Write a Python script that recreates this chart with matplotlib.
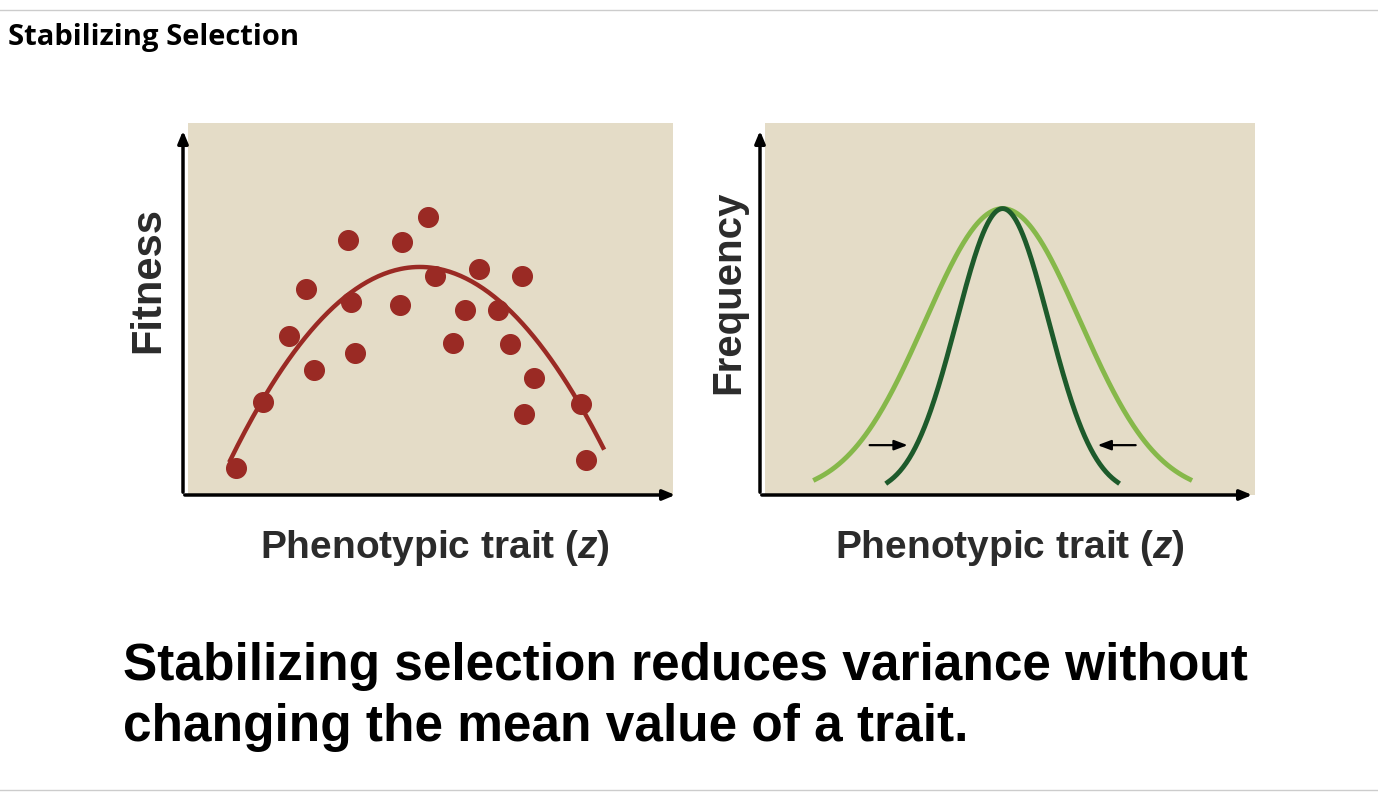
import numpy as np
import matplotlib.pyplot as plt

plt.rcParams['font.family'] = ['Liberation Sans', 'DejaVu Sans']
plt.rcParams['mathtext.fontset'] = 'custom'
plt.rcParams['mathtext.it'] = 'Liberation Sans:italic:bold'
plt.rcParams['mathtext.rm'] = 'Liberation Sans:bold'

# Left panel: fitness vs trait (data units 0-10)
dot_x = [0.99, 1.55, 2.08, 2.43, 2.6, 3.3, 3.36, 3.44, 4.37, 4.41, 4.95,
         5.09, 5.46, 5.71, 6.0, 6.39, 6.64, 6.89, 7.13, 6.93, 8.1, 8.21]
dot_y = [0.73, 2.5, 4.27, 5.54, 3.36, 6.85, 5.19, 3.82, 5.11, 6.8, 7.47,
         5.89, 4.09, 4.97, 6.08, 4.97, 4.06, 5.89, 3.15, 2.18, 2.45, 0.94]
fit_peak_x, fit_peak_y, fit_a = 4.78, 6.13, 0.34
fit_range = (0.87, 8.56)

# Right panel: frequency distributions before / after selection
peak_x, peak_y = 4.9, 7.7
wide_sigma, wide_half = 1.6, 3.86
narrow_sigma, narrow_half = 0.95, 2.37

BG = '#e4dcc7'
RED = '#9a2a24'
LIGHT = '#86b84a'
DARK = '#1d5a2b'

fig = plt.figure(figsize=(13.78, 7.98), dpi=100)
W, H = 1378, 798


def add_panel(x0, w):
    ax = fig.add_axes([x0 / W, 1 - 495 / H, w / W, 372 / H])
    ax.set_xlim(0, 10 * w / 485)
    ax.set_ylim(0, 10)
    ax.set_facecolor(BG)
    for s in ax.spines.values():
        s.set_visible(False)
    ax.set_xticks([])
    ax.set_yticks([])
    return ax


def draw_axes_arrows(x0):
    # axis lines with arrow heads in figure pixel coords
    ox, oy = x0 - 5, 495
    fig.add_artist(plt.matplotlib.patches.FancyArrowPatch(
        (ox / W, 1 - oy / H), (ox / W, 1 - 128 / H), transform=fig.transFigure,
        arrowstyle='-|>,head_length=0.6,head_width=0.25', lw=2.5, color='black',
        mutation_scale=12))
    fig.add_artist(plt.matplotlib.patches.FancyArrowPatch(
        ((ox - 1) / W, 1 - oy / H), ((x0 + 490) / W, 1 - oy / H),
        transform=fig.transFigure,
        arrowstyle='-|>,head_length=0.6,head_width=0.25', lw=2.5, color='black',
        mutation_scale=12))


ax1 = add_panel(188, 485)
xs = np.linspace(*fit_range, 200)
ax1.plot(xs, fit_peak_y - fit_a * (xs - fit_peak_x) ** 2, color=RED, lw=3.2)
ax1.scatter(dot_x, dot_y, s=200, color=RED, zorder=3)
draw_axes_arrows(188)

ax2 = add_panel(765, 490)
xw = np.linspace(peak_x - wide_half, peak_x + wide_half, 300)
ax2.plot(xw, peak_y * np.exp(-0.5 * ((xw - peak_x) / wide_sigma) ** 2),
         color=LIGHT, lw=3.5)
xn = np.linspace(peak_x - narrow_half, peak_x + narrow_half, 300)
ax2.plot(xn, peak_y * np.exp(-0.5 * ((xn - peak_x) / narrow_sigma) ** 2),
         color=DARK, lw=3.5)
ax2.annotate('', xy=(3.0, 1.34), xytext=(2.1, 1.34),
             arrowprops=dict(arrowstyle='-|>,head_length=0.8,head_width=0.3',
                             color='black', lw=1.6))
ax2.annotate('', xy=(6.8, 1.34), xytext=(7.7, 1.34),
             arrowprops=dict(arrowstyle='-|>,head_length=0.8,head_width=0.3',
                             color='black', lw=1.6))
draw_axes_arrows(765)

lab_color = '#2b2b2b'
fig.text(148 / W, 1 - 280 / H, 'Fitness', rotation=90, ha='center',
         va='center', fontsize=30, fontweight='bold', color=lab_color)
fig.text(728 / W, 1 - 292 / H, 'Frequency', rotation=90, ha='center',
         va='center', fontsize=29, fontweight='bold', color=lab_color)
fig.text(435 / W, 1 - 548 / H, 'Phenotypic trait ($z$)', ha='center',
         va='center', fontsize=28, fontweight='bold', color=lab_color)
fig.text(1010 / W, 1 - 548 / H, 'Phenotypic trait ($z$)', ha='center',
         va='center', fontsize=28, fontweight='bold', color=lab_color)

fig.text(8 / W, 1 - 38 / H, 'Stabilizing Selection', ha='left', va='center',
         fontsize=21, fontweight='bold', family=['Open Sans', 'DejaVu Sans'])
fig.text(123 / W, 1 - 697 / H,
         'Stabilizing selection reduces variance without\n'
         'changing the mean value of a trait.',
         ha='left', va='center', fontsize=37, fontweight='bold',
         linespacing=1.3)

# thin frame lines top and bottom
fig.add_artist(plt.Line2D([0, 1], [1 - 10 / H] * 2, color='#cccccc', lw=1))
fig.add_artist(plt.Line2D([0, 1], [1 - 790 / H] * 2, color='#cccccc', lw=1))

fig.savefig('out.png', dpi=100)
